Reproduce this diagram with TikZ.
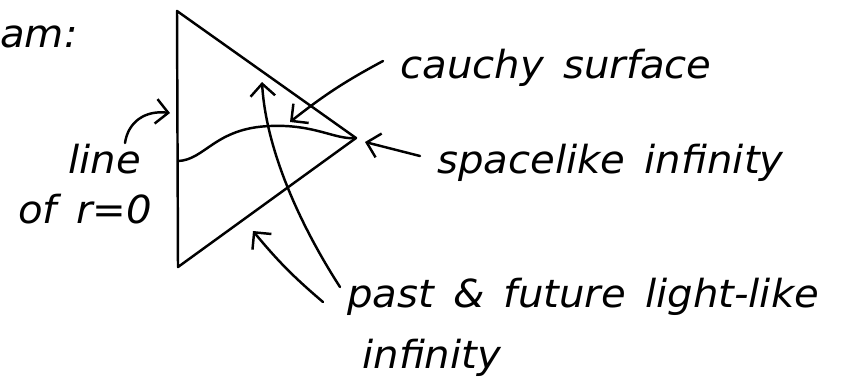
\documentclass[tikz,border=0pt]{standalone}
\usepackage{fontspec}
\newfontfamily\mao[FakeStretch=1.04, WordSpace=1.5]{DejaVu Sans}
\usetikzlibrary{arrows.meta, positioning}
\tikzset{
  rotulo/.style={
    font=\fontsize{22}{24}\selectfont\mao\itshape,
    inner sep=0pt, anchor=base west
  },
  traco/.style={line width=1.4pt, line cap=round, line join=round},
  seta/.style={traco, -{Straight Barb[length=7pt, width=14pt]}},
}

\begin{document}
\begin{tikzpicture}[x=0.02cm, y=-0.02cm]

\useasboundingbox (0,0) rectangle (851,387);

% Diagrama
\coordinate (topo) at (177,11);
\coordinate (ponta) at (356,138);
\coordinate (base) at (178,267);
\draw[traco] (topo) -- (ponta) -- (base) -- cycle;

% Superficie de Cauchy
\coordinate (cEsq) at (178,161);
\draw[traco] (cEsq) .. controls (205,160) and (215,128) .. (270,126)
  .. controls (315,124) and (335,140) .. (ponta);

% Rotulos
\node[rotulo] (titulo) at (0,47) {am:};
\node[rotulo] (cauchy) at (400,78) {cauchy surface};
\node[rotulo] (espaco) at (437,173) {spacelike infinity};
\node[rotulo] (linha) at (68,173) {line};
\node[rotulo] (raio) at (18,223) {of r=0};
\node[rotulo] (luz) at (347,307) {past \& future light-like};
\node[rotulo] (luz2) at (362,368) {infinity};

% Setas
\coordinate (cauchyA) at (383,61);
\coordinate (cauchyB) at (290,122);
\draw[seta] (cauchyA) to[bend right=5] (cauchyB);

\coordinate (espacoA) at (420,156);
\coordinate (espacoB) at (365,142);
\draw[seta] (espacoA) -- (espacoB);

\coordinate (linhaA) at (125,143);
\coordinate (linhaB) at (170,113);
\draw[seta] (linhaA) .. controls (128,122) and (145,110) .. (linhaB);

\coordinate (futuroA) at (340,287);
\coordinate (futuroB) at (262,82);
\draw[seta] (futuroA) .. controls (300,225) and (266,150) .. (futuroB);

\coordinate (passadoA) at (323,302);
\coordinate (passadoB) at (253,231);
\draw[seta] (passadoA) to[bend left=5] (passadoB);

\end{tikzpicture}
\end{document}
